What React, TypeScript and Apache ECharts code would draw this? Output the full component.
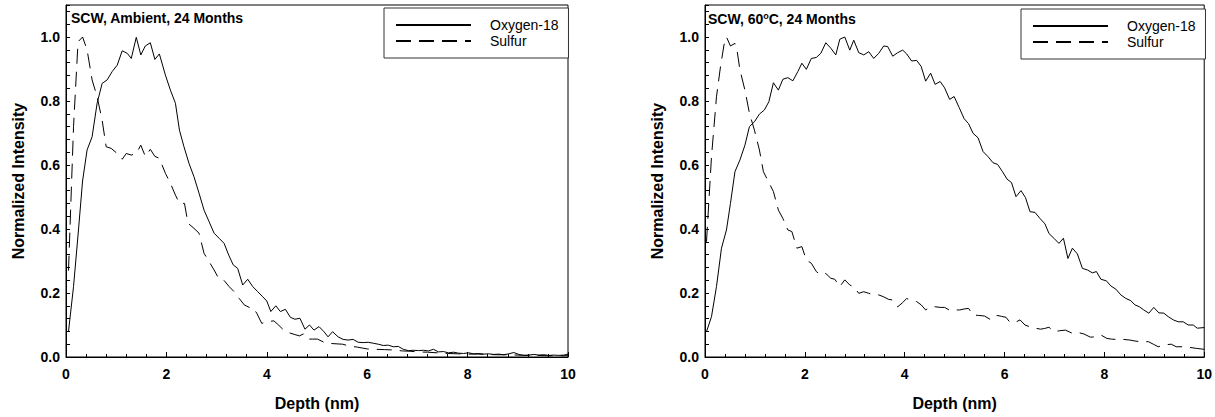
import React, { useEffect, useRef } from "react";
import * as echarts from "echarts";

// ---- data ----
const seriesNames = ["Oxygen-18", "Sulfur"];
const panelTitles = ["SCW, Ambient, 24 Months", "SCW, 60{sup|o}C, 24 Months"];
const axisNames = { x: "Depth (nm)", y: "Normalized Intensity" };

// Panel 1 : Ambient
const ambientOxygen: number[][] = [
  [0.05, 0.08], [0.15, 0.22], [0.25, 0.40], [0.33, 0.55], [0.42, 0.647], [0.52, 0.688], [0.62, 0.793], [0.72, 0.855],
  [0.82, 0.866], [0.92, 0.892], [1.02, 0.912], [1.12, 0.957], [1.22, 0.949], [1.30, 0.933], [1.40, 0.999], [1.49, 0.944],
  [1.58, 0.972], [1.68, 0.982], [1.77, 0.930], [1.86, 0.947], [1.98, 0.881], [2.08, 0.834], [2.18, 0.793], [2.26, 0.709],
  [2.35, 0.657], [2.45, 0.605], [2.55, 0.563], [2.65, 0.512], [2.75, 0.459], [2.85, 0.423], [2.95, 0.387], [3.05, 0.371],
  [3.15, 0.355], [3.24, 0.319], [3.33, 0.288], [3.42, 0.277], [3.52, 0.225], [3.62, 0.243], [3.72, 0.220], [3.82, 0.204],
  [3.92, 0.188], [4.00, 0.175], [4.08, 0.142], [4.18, 0.160], [4.27, 0.142], [4.37, 0.149], [4.47, 0.124], [4.56, 0.118],
  [4.66, 0.121], [4.76, 0.087], [4.85, 0.100], [4.94, 0.084], [5.04, 0.095], [5.14, 0.079], [5.22, 0.063], [5.31, 0.079],
  [5.42, 0.063], [5.52, 0.055], [5.62, 0.053], [5.72, 0.055], [5.82, 0.046], [5.92, 0.045], [6.02, 0.046], [6.12, 0.043],
  [6.22, 0.040], [6.32, 0.036], [6.42, 0.037], [6.52, 0.032], [6.62, 0.033], [6.72, 0.024], [6.82, 0.020], [6.92, 0.021],
  [7.02, 0.020], [7.12, 0.021], [7.22, 0.019], [7.32, 0.024], [7.42, 0.016], [7.52, 0.017], [7.62, 0.013], [7.72, 0.015],
  [7.82, 0.012], [7.92, 0.011], [8.02, 0.013], [8.12, 0.010], [8.22, 0.011], [8.32, 0.009], [8.42, 0.010], [8.52, 0.008],
  [8.62, 0.009], [8.72, 0.007], [8.82, 0.010], [8.92, 0.014], [9.02, 0.008], [9.12, 0.005], [9.22, 0.006], [9.32, 0.008],
  [9.42, 0.006], [9.52, 0.007], [9.62, 0.005], [9.72, 0.006], [9.82, 0.005], [9.92, 0.006], [10.0, 0.009],
];
const ambientSulfur: number[][] = [
  [0.05, 0.27], [0.15, 0.72], [0.24, 0.985], [0.33, 1.0], [0.42, 0.96], [0.52, 0.866], [0.62, 0.813], [0.72, 0.74],
  [0.80, 0.657], [0.90, 0.652], [1.02, 0.636], [1.12, 0.618], [1.20, 0.636], [1.30, 0.631], [1.40, 0.636], [1.49, 0.662],
  [1.58, 0.627], [1.68, 0.649], [1.77, 0.627], [1.86, 0.621], [1.98, 0.574], [2.08, 0.543], [2.18, 0.506], [2.26, 0.48],
  [2.36, 0.48], [2.43, 0.418], [2.55, 0.402], [2.65, 0.387], [2.75, 0.324], [2.85, 0.298], [2.95, 0.272], [3.05, 0.243],
  [3.15, 0.239], [3.25, 0.22], [3.35, 0.204], [3.45, 0.183], [3.55, 0.163], [3.65, 0.155], [3.72, 0.155], [3.80, 0.137],
  [3.90, 0.105], [4.00, 0.11], [4.14, 0.113], [4.22, 0.102], [4.35, 0.082], [4.46, 0.075], [4.56, 0.070], [4.65, 0.066],
  [4.73, 0.072], [4.81, 0.056], [4.91, 0.056], [5.01, 0.056], [5.10, 0.049], [5.18, 0.043], [5.30, 0.042], [5.40, 0.041],
  [5.51, 0.040], [5.65, 0.034], [5.80, 0.031], [5.90, 0.028], [6.01, 0.025], [6.18, 0.024], [6.35, 0.023], [6.51, 0.022],
  [6.70, 0.019], [6.85, 0.018], [7.00, 0.016], [7.20, 0.015], [7.40, 0.013], [7.60, 0.011], [7.80, 0.010], [8.00, 0.009],
  [8.20, 0.009], [8.40, 0.008], [8.60, 0.007], [8.80, 0.007], [9.00, 0.006], [9.20, 0.005], [9.40, 0.005], [9.60, 0.004],
  [9.80, 0.004], [10.0, 0.004],
];

// Panel 2 : 60 °C
const heatedOxygen: number[][] = [
  [0.03, 0.079], [0.13, 0.126], [0.23, 0.22], [0.33, 0.34], [0.43, 0.397], [0.51, 0.48], [0.60, 0.579], [0.70, 0.616],
  [0.80, 0.662], [0.89, 0.72], [0.99, 0.735], [1.09, 0.759], [1.19, 0.772], [1.28, 0.798], [1.37, 0.857], [1.47, 0.834],
  [1.56, 0.868], [1.66, 0.873], [1.76, 0.863], [1.86, 0.892], [1.94, 0.918], [2.03, 0.899], [2.13, 0.933], [2.23, 0.936],
  [2.32, 0.949], [2.42, 0.982], [2.52, 0.965], [2.62, 0.944], [2.70, 0.993], [2.80, 1.0], [2.90, 0.959], [2.98, 0.99],
  [3.08, 0.951], [3.18, 0.944], [3.28, 0.954], [3.38, 0.933], [3.48, 0.949], [3.58, 0.972], [3.66, 0.97], [3.76, 0.94],
  [3.86, 0.951], [3.96, 0.959], [4.04, 0.947], [4.14, 0.925], [4.24, 0.927], [4.33, 0.908], [4.42, 0.862], [4.52, 0.887],
  [4.61, 0.852], [4.71, 0.861], [4.80, 0.841], [4.90, 0.805], [4.99, 0.814], [5.09, 0.780], [5.19, 0.745], [5.28, 0.729],
  [5.37, 0.699], [5.47, 0.685], [5.57, 0.642], [5.67, 0.626], [5.77, 0.607], [5.86, 0.602], [5.96, 0.579], [6.05, 0.556],
  [6.14, 0.545], [6.23, 0.501], [6.33, 0.52], [6.42, 0.498], [6.51, 0.454], [6.61, 0.452], [6.71, 0.433], [6.81, 0.416],
  [6.89, 0.386], [6.99, 0.371], [7.09, 0.355], [7.18, 0.371], [7.27, 0.308], [7.36, 0.34], [7.46, 0.322], [7.56, 0.277],
  [7.66, 0.272], [7.76, 0.263], [7.84, 0.267], [7.93, 0.243], [8.04, 0.238], [8.13, 0.222], [8.23, 0.212], [8.33, 0.194],
  [8.43, 0.183], [8.53, 0.176], [8.61, 0.163], [8.70, 0.157], [8.79, 0.147], [8.89, 0.137], [8.99, 0.155], [9.09, 0.138],
  [9.19, 0.137], [9.28, 0.126], [9.38, 0.116], [9.48, 0.110], [9.58, 0.110], [9.68, 0.100], [9.78, 0.100], [9.86, 0.090],
  [10.0, 0.092],
];
const heatedSulfur: number[][] = [
  [0.03, 0.36], [0.13, 0.626], [0.23, 0.813], [0.31, 0.907], [0.38, 0.975], [0.43, 1.0], [0.51, 0.972], [0.60, 0.98],
  [0.64, 0.96], [0.70, 0.897], [0.80, 0.834], [0.89, 0.762], [0.99, 0.709], [1.09, 0.647], [1.17, 0.579], [1.27, 0.548],
  [1.37, 0.517], [1.47, 0.459], [1.56, 0.433], [1.66, 0.397], [1.74, 0.392], [1.84, 0.34], [1.94, 0.345], [2.03, 0.303],
  [2.13, 0.293], [2.23, 0.267], [2.32, 0.256], [2.42, 0.261], [2.52, 0.246], [2.60, 0.243], [2.70, 0.22], [2.80, 0.241],
  [2.90, 0.225], [2.98, 0.22], [3.08, 0.199], [3.18, 0.204], [3.28, 0.199], [3.38, 0.194], [3.48, 0.194], [3.58, 0.188],
  [3.68, 0.18], [3.76, 0.178], [3.86, 0.157], [3.96, 0.17], [4.04, 0.183], [4.14, 0.176], [4.24, 0.173], [4.33, 0.163],
  [4.42, 0.147], [4.52, 0.157], [4.61, 0.157], [4.71, 0.155], [4.80, 0.155], [4.90, 0.146], [5.00, 0.147], [5.10, 0.147],
  [5.19, 0.150], [5.28, 0.152], [5.37, 0.131], [5.48, 0.130], [5.60, 0.128], [5.73, 0.116], [5.85, 0.130], [5.94, 0.127],
  [6.03, 0.124], [6.10, 0.110], [6.20, 0.107], [6.31, 0.116], [6.41, 0.100], [6.53, 0.093], [6.62, 0.090], [6.72, 0.087],
  [6.80, 0.089], [6.89, 0.093], [6.99, 0.079], [7.10, 0.082], [7.22, 0.084], [7.36, 0.074], [7.49, 0.076], [7.59, 0.072],
  [7.72, 0.062], [7.82, 0.063], [7.93, 0.069], [8.05, 0.058], [8.14, 0.056], [8.22, 0.055], [8.38, 0.055], [8.51, 0.053],
  [8.61, 0.050], [8.71, 0.048], [8.88, 0.048], [8.98, 0.040], [9.08, 0.032], [9.21, 0.038], [9.34, 0.040], [9.44, 0.032],
  [9.57, 0.032], [9.71, 0.030], [9.84, 0.027], [10.0, 0.024],
];

const FONT = "'Liberation Sans', Arial, Helvetica, sans-serif";

export default function App() {
  const ref = useRef<HTMLDivElement>(null);

  useEffect(() => {
    document.body.style.margin = "0";
    if (!ref.current) return;
    const chart = echarts.init(ref.current, undefined, { renderer: "svg" });

    const grids = [
      { left: 66, top: 5, width: 502, height: 352 },
      { left: 705, top: 5, width: 503, height: 352 },
    ];

    const xAxisBase = (gridIndex: number) => ({
      type: "value",
      gridIndex,
      min: 0,
      max: 10,
      interval: 2,
      name: axisNames.x,
      nameLocation: "middle",
      nameGap: 38,
      nameTextStyle: { fontFamily: FONT, fontSize: 16, fontWeight: "bold", color: "#000" },
      axisLine: { show: true, lineStyle: { color: "#000", width: 1 } },
      axisTick: { show: true, inside: true, length: 5, lineStyle: { color: "#000" } },
      minorTick: { show: true, splitNumber: 5, length: 3, lineStyle: { color: "#000" } },
      axisLabel: { margin: 10, fontFamily: FONT, fontSize: 14, fontWeight: "bold", color: "#000" },
      splitLine: { show: false },
    });

    const yAxisBase = (gridIndex: number) => ({
      type: "value",
      gridIndex,
      min: 0,
      max: 1.1,
      interval: 0.04,
      name: axisNames.y,
      nameLocation: "middle",
      nameGap: 40,
      nameTextStyle: { fontFamily: FONT, fontSize: 16, fontWeight: "bold", color: "#000" },
      axisLine: { show: true, lineStyle: { color: "#000", width: 1 } },
      axisTick: { show: true, inside: true, length: 4, lineStyle: { color: "#000" } },
      axisLabel: {
        margin: 6,
        fontFamily: FONT,
        fontSize: 14,
        fontWeight: "bold",
        color: "#000",
        formatter: (v: number) => {
          const k = v / 0.2;
          return Math.abs(k - Math.round(k)) < 1e-6 ? v.toFixed(1) : "";
        },
      },
      splitLine: { show: false },
    });

    const lineSeries = (name: string, data: number[][], idx: number, dashed: boolean) => ({
      type: "line",
      name,
      xAxisIndex: idx,
      yAxisIndex: idx,
      data,
      showSymbol: false,
      symbol: "none",
      lineStyle: { color: "#000", width: 1, type: dashed ? [15, 8] : "solid" },
      itemStyle: { color: "#000" },
      silent: true,
    });

    const legendBase = (left: number, top: number) => ({
      orient: "vertical",
      left,
      top,
      padding: [10, 10, 10, 11],
      itemWidth: 75,
      itemHeight: 14,
      itemGap: 2,
      itemTextGap: 20,
      borderColor: "#333",
      borderWidth: 1,
      borderRadius: 0,
      backgroundColor: "#fff",
      selectedMode: false,
      data: seriesNames,
      itemStyle: { opacity: 0, borderWidth: 0 },
      lineStyle: { opacity: 1 },
      textStyle: { fontFamily: FONT, fontSize: 14, color: "#000", padding: [0, 0, 0, 14] },
    });

    const option = {
      animation: false,
      backgroundColor: "#fff",
      title: [
        {
          text: panelTitles[0],
          left: 71,
          top: 11,
          padding: 0,
          textStyle: { fontFamily: FONT, fontSize: 14, fontWeight: "bold", color: "#000" },
        },
        {
          text: panelTitles[1],
          left: 708,
          top: 11,
          padding: 0,
          textStyle: {
            fontFamily: FONT,
            fontSize: 14,
            fontWeight: "bold",
            color: "#000",
            rich: {
              sup: { fontFamily: FONT, fontSize: 9, fontWeight: "bold", color: "#000", padding: [0, 0, 7, 0] },
            },
          },
        },
      ],
      legend: [legendBase(384, 8), legendBase(1021, 9)],
      grid: grids.map((g) => ({ ...g, show: true, borderColor: "#000", borderWidth: 1, backgroundColor: "transparent" })),
      xAxis: [xAxisBase(0), xAxisBase(1)],
      yAxis: [yAxisBase(0), yAxisBase(1)],
      series: [
        lineSeries(seriesNames[0], ambientOxygen, 0, false),
        lineSeries(seriesNames[1], ambientSulfur, 0, true),
        lineSeries(seriesNames[0], heatedOxygen, 1, false),
        lineSeries(seriesNames[1], heatedSulfur, 1, true),
      ],
    };

    chart.setOption(option as any);
    return () => chart.dispose();
  }, []);

  return <div ref={ref} style={{ width: 1215, height: 417 }} />;
}
